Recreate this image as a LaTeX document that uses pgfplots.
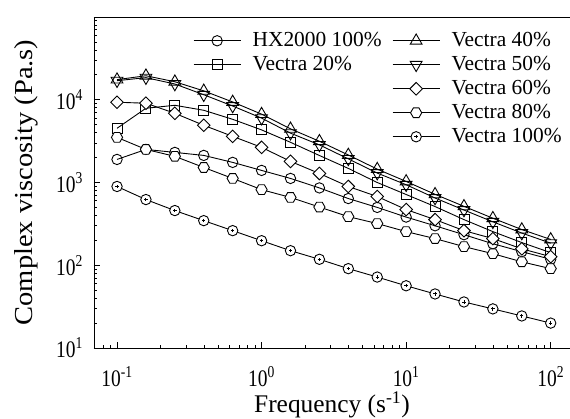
\documentclass[border=0pt]{standalone}
\usepackage{fontspec}
\setmainfont{Liberation Serif}
\usepackage{pgfplots}
\usepackage{pgfplotstable}
\pgfplotsset{compat=1.18}
\usetikzlibrary{plotmarks}

\pgfdeclareplotmark{hexa}{%
 \pgfpathmoveto{\pgfqpointpolar{0}{\pgfplotmarksize}}%
 \pgfpathlineto{\pgfqpointpolar{60}{\pgfplotmarksize}}%
 \pgfpathlineto{\pgfqpointpolar{120}{\pgfplotmarksize}}%
 \pgfpathlineto{\pgfqpointpolar{180}{\pgfplotmarksize}}%
 \pgfpathlineto{\pgfqpointpolar{240}{\pgfplotmarksize}}%
 \pgfpathlineto{\pgfqpointpolar{300}{\pgfplotmarksize}}%
 \pgfpathclose\pgfusepathqfillstroke}
\pgfdeclareplotmark{rhomb}{%
 \pgfpathmoveto{\pgfqpoint{0pt}{\pgfplotmarksize}}%
 \pgfpathlineto{\pgfqpoint{\pgfplotmarksize}{0pt}}%
 \pgfpathlineto{\pgfqpoint{0pt}{-\pgfplotmarksize}}%
 \pgfpathlineto{\pgfqpoint{-\pgfplotmarksize}{0pt}}%
 \pgfpathclose\pgfusepathqfillstroke}
\pgfdeclareplotmark{dotcirc}{%
 \pgfpathcircle{\pgfpointorigin}{\pgfplotmarksize}%
 \pgfusepathqfillstroke
 \pgfpathmoveto{\pgfqpoint{-0.32\pgfplotmarksize}{0pt}}%
 \pgfpathlineto{\pgfqpoint{0.32\pgfplotmarksize}{0pt}}%
 \pgfpathmoveto{\pgfqpoint{0pt}{-0.32\pgfplotmarksize}}%
 \pgfpathlineto{\pgfqpoint{0pt}{0.32\pgfplotmarksize}}%
 \pgfusepathqstroke}

\pgfplotstableread{
f      hx    vtwenty vforty vfifty vsixty veighty vhundred
0.1    1900  4520    17500  17000  9330   3510    895
0.1585 2510  7890    19500  18500  9080   2510    622
0.2512 2310  8570    16500  15500  6860   2070    458
0.3981 2125  7460    12800  11500  4910   1520    346
0.631  1750  5800    9400   8400   3610   1120    262
1      1400  4320    6700   6000   2660   820     198
1.585  1120  3060    4450   3950   1800   660     150
2.512  860   2120    3150   2850   1285   505     118
3.981  640   1480    2150   1930   895    387     91
6.31   500   1000    1450   1300   677    319     72
10     382   716     1030   940    471    255     56.5
15.85  300   512     720    650    356    210     45
25.12  234   356     515    465    262    168     36
39.81  182   255     370    335    210    138     29.7
63.1   146   188     270    245    158    110     24.4
100    118   142     205    185    127    91      20
}\datatable

\begin{document}
\begin{tikzpicture}
\begin{axis}[
 name=ax,
 xmode=log, ymode=log,
 scale only axis, width=476bp, height=331bp,
 xmin=0.0693, xmax=136, ymin=10, ymax=1e5,
 axis x line*=bottom, axis y line*=left,
 axis line style={-, line width=0.9bp},
 clip=false,
 xtick={0.01,0.1,1,10,100,1000},
 xticklabels={{},10\textsuperscript{-1},10\textsuperscript{0},10\textsuperscript{1},10\textsuperscript{2},{}},
 ytick={10,100,1000,10000,100000},
 yticklabels={10\textsuperscript{1},10\textsuperscript{2},10\textsuperscript{3},10\textsuperscript{4},{}},
 tick align=inside,
 major tick length=6bp, minor tick length=3.5bp,
 tick style={line width=0.8bp, black},
 ticklabel style={font=\fontsize{19.5}{22}\selectfont, inner sep=0pt, yscale=1.22},
 yticklabel style={anchor=east, xshift=-11bp},
 xticklabel style={anchor=north, yshift=-15bp},
 every axis x label/.style={at={(rel axis cs:0.5,-0.1935)}, anchor=base,
   font=\fontsize{25.5}{30}\selectfont},
 every axis y label/.style={at={(rel axis cs:-0.1429,0.5)}, anchor=center, rotate=90,
   xscale=1.1, font=\fontsize{26}{30}\selectfont},
 xlabel={Frequency (s\textsuperscript{-1})},
 ylabel={Complex viscosity (Pa.s)},
 every axis plot/.append style={black, line width=0.9bp},
 legend columns=2,
 legend cell align=left,
 legend style={draw=none, fill=none, at={(0.208,0.965)}, anchor=north west,
   font=\fontsize{21.5}{24}\selectfont,
   inner sep=0pt,
   nodes={inner sep=2.5bp, text height=15bp, text depth=4bp},
   /tikz/every even column/.append style={column sep=8bp}},
 legend image code/.code={%
   \draw[mark repeat=2,mark phase=2] plot coordinates {(0bp,0bp) (23.5bp,0bp) (47bp,0bp)};
   \path (0bp,0bp) (56bp,0bp);},
]
\addplot[forget plot, mark=o, mark size=5.2bp, mark options={fill=white}] table[x=f,y=hx]{\datatable};
\addplot[forget plot, mark=square, mark size=5bp, mark options={fill=white}] table[x=f,y=vtwenty]{\datatable};
\addplot[forget plot, mark=rhomb, mark size=6.3bp, mark options={fill=white}] table[x=f,y=vsixty]{\datatable};
\addplot[forget plot, mark=hexa, mark size=5.6bp, mark options={fill=white}] table[x=f,y=veighty]{\datatable};
\addplot[forget plot, mark=dotcirc, mark size=5.2bp, mark options={fill=white}] table[x=f,y=vhundred]{\datatable};
\addplot[forget plot, mark=triangle, mark size=6.8bp, mark options={fill=white, rotate=180}] table[x=f,y=vfifty]{\datatable};
\addplot[forget plot, mark=triangle, mark size=6.8bp, mark options={fill=white}] table[x=f,y=vforty]{\datatable};

\addlegendimage{black, line width=0.9bp, mark=o, mark size=5.2bp, mark options={fill=white}}
\addlegendentry{HX2000 100\%}
\addlegendimage{black, line width=0.9bp, mark=triangle, mark size=6.8bp, mark options={fill=white}}
\addlegendentry{Vectra 40\%}
\addlegendimage{black, line width=0.9bp, mark=square, mark size=5bp, mark options={fill=white}}
\addlegendentry{Vectra 20\%}
\addlegendimage{black, line width=0.9bp, mark=triangle, mark size=6.8bp, mark options={fill=white, rotate=180}}
\addlegendentry{Vectra 50\%}
\addlegendimage{empty legend}
\addlegendentry{}
\addlegendimage{black, line width=0.9bp, mark=rhomb, mark size=6.3bp, mark options={fill=white}}
\addlegendentry{Vectra 60\%}
\addlegendimage{empty legend}
\addlegendentry{}
\addlegendimage{black, line width=0.9bp, mark=hexa, mark size=5.6bp, mark options={fill=white}}
\addlegendentry{Vectra 80\%}
\addlegendimage{empty legend}
\addlegendentry{}
\addlegendimage{black, line width=0.9bp, mark=dotcirc, mark size=5.2bp, mark options={fill=white}}
\addlegendentry{Vectra 100\%}

\draw[line width=0.9bp] (rel axis cs:0,1) -- (rel axis cs:1,1);
\end{axis}
\pgfresetboundingbox
\path ([xshift=-94bp,yshift=-71bp]ax.south west) rectangle ([yshift=17bp]ax.north east);
\end{tikzpicture}
\end{document}
